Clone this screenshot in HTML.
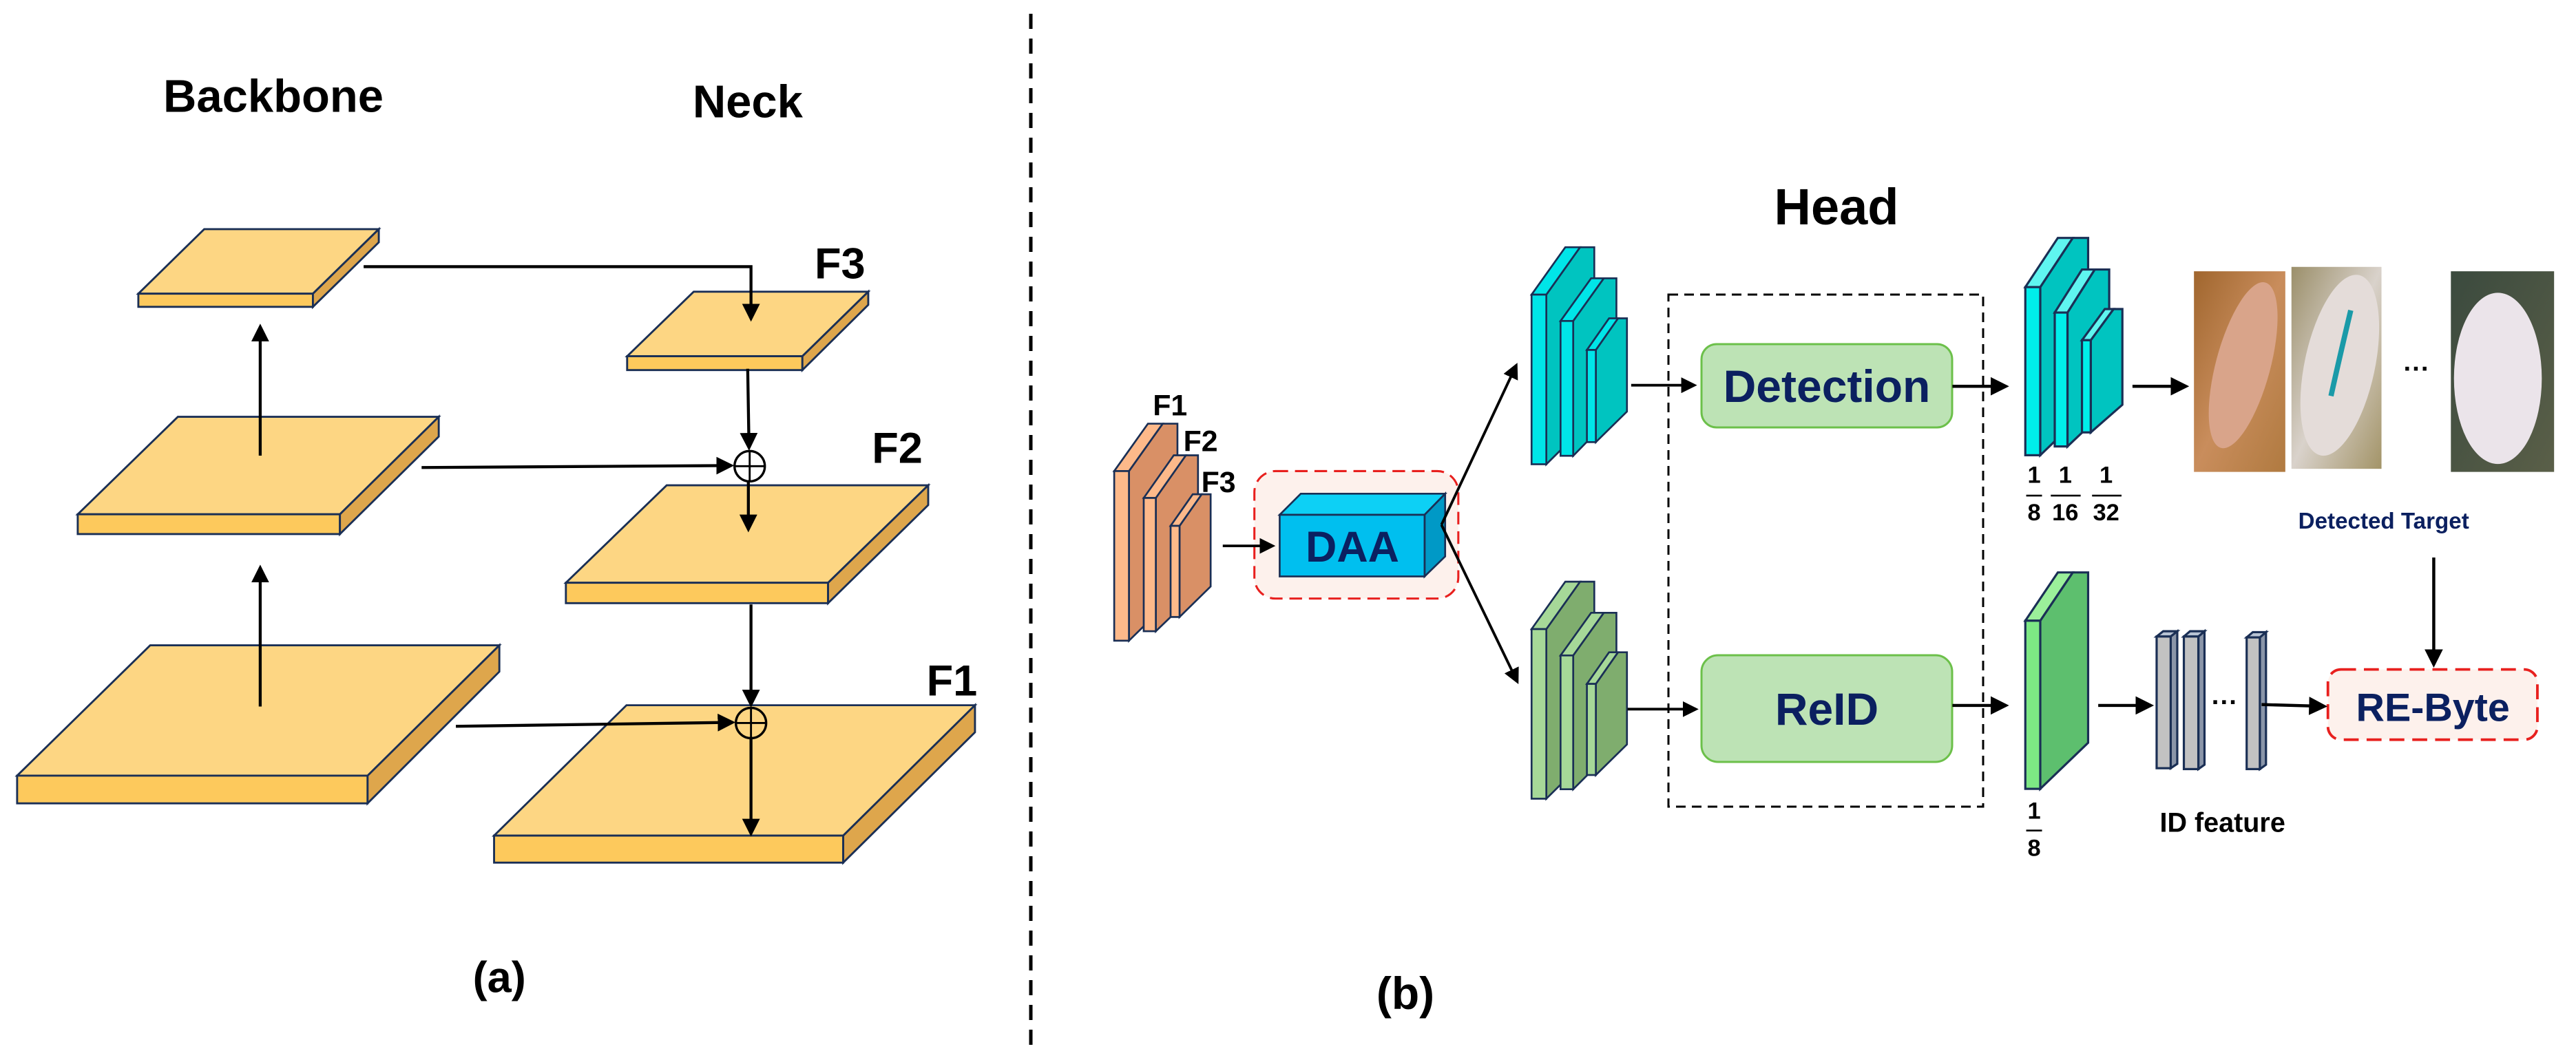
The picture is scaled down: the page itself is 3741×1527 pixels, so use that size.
<!DOCTYPE html>
<html><head><meta charset="utf-8"><style>
html,body{margin:0;padding:0;background:#fff}
svg{display:block}
text{font-family:"Liberation Sans","DejaVu Sans",sans-serif;font-weight:bold}
</style></head><body>
<svg width="3741" height="1527" viewBox="0 0 3741 1527" xmlns="http://www.w3.org/2000/svg">
<defs>
<marker id="ah" markerWidth="6" markerHeight="6" refX="5" refY="3" orient="auto" markerUnits="strokeWidth"><path d="M0,0 L6,3 L0,6 z" fill="#000"/></marker>
<linearGradient id="p1" x1="0" y1="0" x2="1" y2="1"><stop offset="0" stop-color="#a0662e"/><stop offset="0.5" stop-color="#c98d5c"/><stop offset="1" stop-color="#b07a40"/></linearGradient>
<linearGradient id="p2" x1="0" y1="0" x2="1" y2="1"><stop offset="0" stop-color="#9b8f6a"/><stop offset="0.5" stop-color="#d9d2cb"/><stop offset="1" stop-color="#a39468"/></linearGradient>
<linearGradient id="p3" x1="0" y1="0" x2="1" y2="1"><stop offset="0" stop-color="#3b4a3e"/><stop offset="1" stop-color="#5a5f48"/></linearGradient>
</defs>
<rect width="3741" height="1527" fill="#fff"/>
<line x1="1497" y1="20" x2="1497" y2="1527" stroke="#000" stroke-width="5" stroke-dasharray="22,14"/>

<!-- Panel (a) -->
<g transform="scale(0.9567)" stroke="#1a2f55" stroke-width="3">
<text x="415" y="170" font-size="70" text-anchor="middle" fill="#000" stroke="none">Backbone</text>
<text x="1135" y="178" font-size="70" text-anchor="middle" fill="#000" stroke="none">Neck</text>
<polygon points="310,348 575,348 475,446 210,446" fill="#fdd683"/>
<polygon points="210,446 475,446 475,466 210,466" fill="#fdc95c"/>
<polygon points="475,446 575,348 575,368 475,466" fill="#dea64c"/>
<polygon points="270,633 666,633 516,781 118,781" fill="#fdd683"/>
<polygon points="118,781 516,781 516,811 118,811" fill="#fdc95c"/>
<polygon points="516,781 666,633 666,663 516,811" fill="#dea64c"/>
<polygon points="228,980 758,980 558,1178 26,1178" fill="#fdd683"/>
<polygon points="26,1178 558,1178 558,1220 26,1220" fill="#fdc95c"/>
<polygon points="558,1178 758,980 758,1020 558,1220" fill="#dea64c"/>
<polygon points="1053,443 1318,443 1218,541 952,541" fill="#fdd683"/>
<polygon points="952,541 1218,541 1218,562 952,562" fill="#fdc95c"/>
<polygon points="1218,541 1318,443 1318,463 1218,562" fill="#dea64c"/>
<polygon points="1012,737 1409,737 1257,885 859,885" fill="#fdd683"/>
<polygon points="859,885 1257,885 1257,916 859,916" fill="#fdc95c"/>
<polygon points="1257,885 1409,737 1409,767 1257,916" fill="#dea64c"/>
<polygon points="951,1071 1480,1071 1280,1269 750,1269" fill="#fdd683"/>
<polygon points="750,1269 1280,1269 1280,1310 750,1310" fill="#fdc95c"/>
<polygon points="1280,1269 1480,1071 1480,1112 1280,1310" fill="#dea64c"/>
</g>
<g transform="scale(0.9567)" stroke="#000" stroke-width="4.5" fill="none">
<line x1="395" y1="1073" x2="395" y2="862" marker-end="url(#ah)"/>
<line x1="395" y1="692" x2="395" y2="496" marker-end="url(#ah)"/>
<polyline points="552,405 1140,405 1140,484" marker-end="url(#ah)"/>
<line x1="1135" y1="560" x2="1137" y2="680" marker-end="url(#ah)"/>
<line x1="640" y1="710" x2="1110" y2="707" marker-end="url(#ah)"/>
<circle cx="1138" cy="708" r="23" stroke-width="3.5"/>
<line x1="1115" y1="708" x2="1161" y2="708" stroke-width="3"/>
<line x1="1138" y1="685" x2="1138" y2="731" stroke-width="3"/>
<line x1="1136" y1="731" x2="1136" y2="804" marker-end="url(#ah)"/>
<line x1="1140" y1="918" x2="1140" y2="1070" marker-end="url(#ah)"/>
<line x1="692" y1="1103" x2="1112" y2="1097" marker-end="url(#ah)"/>
<circle cx="1140" cy="1098" r="23" stroke-width="3.5"/>
<line x1="1117" y1="1098" x2="1163" y2="1098" stroke-width="3"/>
<line x1="1140" y1="1075" x2="1140" y2="1121" stroke-width="3"/>
<line x1="1140" y1="1121" x2="1140" y2="1266" marker-end="url(#ah)"/>
<g fill="#000" stroke="none" font-size="66">
<text x="1275" y="423" text-anchor="middle">F3</text>
<text x="1362" y="703" text-anchor="middle">F2</text>
<text x="1445" y="1056" text-anchor="middle">F1</text>
<text x="758" y="1507" text-anchor="middle">(a)</text>
</g>
</g>

<!-- Panel (b) middle -->
<text x="2667" y="326" font-size="74" text-anchor="middle" fill="#000">Head</text>
<g transform="translate(1550,200) scale(0.7653)">
<g stroke="#1a2f55" stroke-width="3.5">
<polygon points="117,633 181,543 209,543 209,865 117,955" fill="#d99066"/>
<polygon points="89,633 153,543 181,543 117,633" fill="#fdb98a"/>
<rect x="89" y="633" width="28" height="322" fill="#fdb98a"/>
<polygon points="168,684 225,603 248,603 248,860 168,937" fill="#d99066"/>
<polygon points="145,684 202,603 225,603 168,684" fill="#fdb98a"/>
<rect x="145" y="684" width="23" height="253" fill="#fdb98a"/>
<polygon points="213,737 255,677 272,677 272,852 213,910" fill="#d99066"/>
<polygon points="196,737 238,677 255,677 213,737" fill="#fdb98a"/>
<rect x="196" y="737" width="17" height="173" fill="#fdb98a"/>
</g>
<g fill="#000" font-weight="normal" font-size="56">
<text x="195" y="527" text-anchor="middle">F1</text>
<text x="253" y="595" text-anchor="middle">F2</text>
<text x="287" y="673" text-anchor="middle">F3</text>
</g>
<rect x="355" y="633" width="387" height="242" rx="40" fill="#fdf1ec" stroke="#e8201e" stroke-width="4" stroke-dasharray="24,13"/>
<g stroke="#1a2f55" stroke-width="3.5">
<polygon points="403,716 443,676 717,676 678,716" fill="#0dd0f5"/>
<polygon points="678,716 717,676 717,795 678,833" fill="#0099c6"/>
<rect x="403" y="716" width="275" height="117" fill="#00bfef"/>
</g>
<text x="541" y="805" font-size="82" text-anchor="middle" fill="#0b2060" font-weight="normal">DAA</text>
<g stroke="#1a2f55" stroke-width="3.5">
<polygon points="909,298 973,208 1000,208 1000,530 909,620" fill="#00c4c0"/>
<polygon points="881,298 945,208 973,208 909,298" fill="#00e5e8"/>
<rect x="881" y="298" width="28" height="322" fill="#00e5e8"/>
<polygon points="960,348 1018,267 1042,267 1042,520 960,604" fill="#00c4c0"/>
<polygon points="936,348 994,267 1018,267 960,348" fill="#00e5e8"/>
<rect x="936" y="348" width="24" height="256" fill="#00e5e8"/>
<polygon points="1003,403 1045,343 1062,343 1062,520 1003,578" fill="#00c4c0"/>
<polygon points="986,403 1028,343 1045,343 1003,403" fill="#00e5e8"/>
<rect x="986" y="403" width="17" height="175" fill="#00e5e8"/>
<polygon points="909,933 973,843 1000,843 1000,1165 909,1255" fill="#7fad6e"/>
<polygon points="881,933 945,843 973,843 909,933" fill="#a6d898"/>
<rect x="881" y="933" width="28" height="322" fill="#a6d898"/>
<polygon points="960,983 1018,902 1042,902 1042,1155 960,1237" fill="#7fad6e"/>
<polygon points="936,983 994,902 1018,902 960,983" fill="#a6d898"/>
<rect x="936" y="983" width="24" height="254" fill="#a6d898"/>
<polygon points="1003,1037 1045,977 1062,977 1062,1152 1003,1210" fill="#7fad6e"/>
<polygon points="986,1037 1028,977 1045,977 1003,1037" fill="#a6d898"/>
<rect x="986" y="1037" width="17" height="173" fill="#a6d898"/>
</g>
<g stroke="#000" stroke-width="5" fill="none">
<line x1="295" y1="775" x2="390" y2="775" marker-end="url(#ah)"/>
<line x1="710" y1="735" x2="852" y2="432" marker-end="url(#ah)"/>
<line x1="710" y1="735" x2="854" y2="1033" marker-end="url(#ah)"/>
<line x1="1070" y1="470" x2="1190" y2="470" marker-end="url(#ah)"/>
<line x1="1063" y1="1085" x2="1193" y2="1085" marker-end="url(#ah)"/>
</g>
</g>
<rect x="2423" y="428" width="457" height="744" fill="none" stroke="#000" stroke-width="3" stroke-dasharray="14,9"/>
<rect x="2471" y="500" width="364" height="121" rx="22" fill="#bde3b5" stroke="#6cc04a" stroke-width="3"/>
<text x="2653" y="584" font-size="66" text-anchor="middle" fill="#0b2060" font-weight="normal">Detection</text>
<rect x="2471" y="952" width="364" height="155" rx="24" fill="#bde3b5" stroke="#6cc04a" stroke-width="3"/>
<text x="2653" y="1053" font-size="66" text-anchor="middle" fill="#0b2060" font-weight="normal">ReID</text>

<!-- Panel (b) right -->
<g transform="translate(2741,250) scale(0.6378)">
<g stroke="#1a2f55" stroke-width="5">
<polygon points="348,262 422,150 457,150 457,540 348,645" fill="#00c4c0"/>
<polygon points="314,262 388,150 422,150 348,262" fill="#5ff5f0"/>
<rect x="314" y="262" width="34" height="383" fill="#00eeea"/>
<polygon points="410,320 472,222 505,222 505,535 410,625" fill="#00c4c0"/>
<polygon points="381,320 443,222 472,222 410,320" fill="#5ff5f0"/>
<rect x="381" y="320" width="29" height="305" fill="#00eeea"/>
<polygon points="463,383 515,312 535,312 535,530 463,593" fill="#00c4c0"/>
<polygon points="443,383 495,312 515,312 463,383" fill="#5ff5f0"/>
<rect x="443" y="383" width="20" height="210" fill="#00eeea"/>
<polygon points="348,1022 422,912 457,912 457,1300 348,1405" fill="#5dbf6e"/>
<polygon points="314,1022 388,912 422,912 348,1022" fill="#9bf09a"/>
<rect x="314" y="1022" width="34" height="383" fill="#7de884"/>
<polygon points="645,1058 660,1046 660,1348 645,1358" fill="#8a95a8"/>
<polygon points="613,1058 628,1046 660,1046 645,1058" fill="#b8c3d3"/>
<rect x="613" y="1058" width="32" height="300" fill="#c2c2c2"/>
<polygon points="708,1058 722,1046 722,1350 708,1360" fill="#8a95a8"/>
<polygon points="675,1058 689,1046 722,1046 708,1058" fill="#b8c3d3"/>
<rect x="675" y="1058" width="33" height="302" fill="#c2c2c2"/>
<polygon points="848,1060 862,1048 862,1350 848,1360" fill="#8a95a8"/>
<polygon points="818,1060 832,1048 862,1048 848,1060" fill="#b8c3d3"/>
<rect x="818" y="1060" width="30" height="300" fill="#c2c2c2"/>
</g>
<g font-family="Liberation Serif,serif" font-weight="bold" font-size="54" fill="#000" text-anchor="middle">
<text x="334" y="708">1</text><text x="334" y="793">8</text>
<text x="405" y="708">1</text><text x="405" y="793">16</text>
<text x="498" y="708">1</text><text x="498" y="793">32</text>
<text x="334" y="1473">1</text><text x="334" y="1558">8</text>
</g>
<g stroke="#000" stroke-width="4">
<line x1="316" y1="737" x2="352" y2="737"/><line x1="372" y1="737" x2="440" y2="737"/><line x1="466" y1="737" x2="533" y2="737"/>
<line x1="316" y1="1500" x2="352" y2="1500"/>
</g>
<rect x="698" y="226" width="208" height="457" fill="url(#p1)"/>
<ellipse cx="810" cy="440" rx="62" ry="195" fill="#d9a48a" transform="rotate(15 810 440)"/>
<rect x="920" y="216" width="205" height="460" fill="url(#p2)"/>
<ellipse cx="1030" cy="440" rx="80" ry="210" fill="#e4dcd9" transform="rotate(12 1030 440)"/>
<path d="M1055,315 Q1030,420 1010,510" stroke="#1a9aa8" stroke-width="12" fill="none"/>
<rect x="1283" y="226" width="235" height="457" fill="url(#p3)"/>
<ellipse cx="1390" cy="470" rx="100" ry="195" fill="#ebe4ea"/>
<text x="1205" y="468" font-size="60" text-anchor="middle" fill="#000">···</text>
<text x="768" y="1228" font-size="60" text-anchor="middle" fill="#000">···</text>
<text x="1130" y="812" font-size="52" text-anchor="middle" fill="#0b2060">Detected Target</text>
<text x="763" y="1503" font-size="62" text-anchor="middle" fill="#000">ID feature</text>
<rect x="1003" y="1133" width="477" height="160" rx="30" fill="#fdf1ec" stroke="#e8201e" stroke-width="6" stroke-dasharray="34,18"/>
<text x="1242" y="1250" font-size="90" text-anchor="middle" fill="#0b2060">RE-Byte</text>
<g stroke="#000" stroke-width="7" fill="none">
<line x1="148" y1="488" x2="270" y2="488" marker-end="url(#ah)"/>
<line x1="558" y1="488" x2="680" y2="488" marker-end="url(#ah)"/>
<line x1="1244" y1="878" x2="1244" y2="1122" marker-end="url(#ah)"/>
<line x1="148" y1="1215" x2="270" y2="1215" marker-end="url(#ah)"/>
<line x1="480" y1="1215" x2="600" y2="1215" marker-end="url(#ah)"/>
<line x1="852" y1="1213" x2="995" y2="1217" marker-end="url(#ah)"/>
</g>
</g>
<text x="2041" y="1466" font-size="66" text-anchor="middle" fill="#000">(b)</text>
</svg>
</body></html>
